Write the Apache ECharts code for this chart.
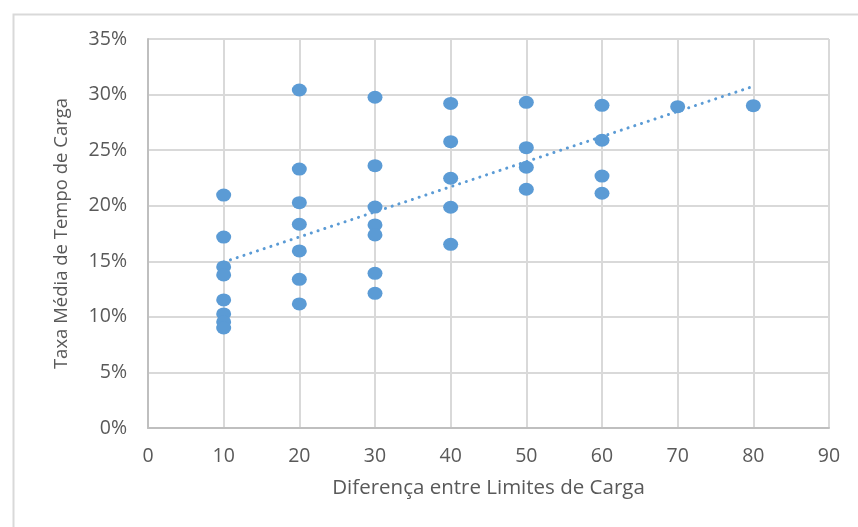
<!DOCTYPE html>
<html>
<head>
<meta charset="utf-8">
<script src="https://cdn.jsdelivr.net/npm/echarts@6/dist/echarts.min.js"></script>
<style>html,body{margin:0;padding:0;background:#fff;}#c{width:858px;height:527px;}</style>
</head>
<body>
<div id="c"></div>
<script>
// Data (x = Diferença entre Limites de Carga, y = Taxa Média %)
const xs10 = [20.96, 17.18, 14.49, 13.77, 11.52, 10.26, 9.54, 9.0];
const xs20 = [30.41, 23.3, 20.27, 18.33, 15.93, 13.38, 11.16];
const xs30 = [29.76, 23.6, 19.88, 18.27, 17.37, 13.92, 12.12];
const xs40 = [29.2, 25.76, 22.47, 19.86, 16.53];
const xs50 = [29.3, 25.22, 23.46, 21.48];
const xs60 = [29.03, 25.89, 22.67, 21.12];
const xs70 = [28.91];
const xs80 = [29.0];
const groupX = [10, 20, 30, 40, 50, 60, 70, 80];
const groupY = [xs10, xs20, xs30, xs40, xs50, xs60, xs70, xs80];
// Trend line endpoints
const trendX = [10, 80];
const trendY = [14.93, 30.74];

const xAxisTitle = 'Diferença entre Limites de Carga';
const yAxisTitle = 'Taxa Média de Tempo de Carga';

const points = [];
groupX.forEach((x, i) => groupY[i].forEach(v => points.push([x, v])));
const trend = trendX.map((x, i) => [x, trendY[i]]);

const font = 'Open Sans';
const txt = '#595959';
const chart = echarts.init(document.getElementById('c'), null, {renderer: 'canvas'});
chart.setOption({
  animation: false,
  backgroundColor: '#fff',
  grid: {left: 148, right: 29, top: 39, bottom: 99, containLabel: false},
  graphic: [{
    type: 'rect', left: 11, top: 12, silent: true,
    shape: {width: 900, height: 600},
    style: {fill: 'none', stroke: '#D9D9D9', lineWidth: 2}
  }],
  xAxis: {
    type: 'value', min: 0, max: 90, interval: 10,
    name: xAxisTitle, nameLocation: 'middle', nameGap: 50,
    nameTextStyle: {color: txt, fontFamily: font, fontSize: 20.5},
    axisLine: {show: true, lineStyle: {color: '#BFBFBF', width: 2}},
    axisTick: {show: false},
    axisLabel: {color: txt, fontFamily: font, fontSize: 19.5, margin: 18},
    splitLine: {show: true, lineStyle: {color: '#D9D9D9', width: 2}}
  },
  yAxis: {
    type: 'value', min: 0, max: 35, interval: 5,
    name: yAxisTitle, nameLocation: 'middle', nameGap: 77, nameRotate: 90,
    nameTextStyle: {color: txt, fontFamily: font, fontSize: 18.5},
    axisLine: {show: true, lineStyle: {color: '#BFBFBF', width: 2}},
    axisTick: {show: false},
    axisLabel: {color: txt, fontFamily: font, fontSize: 19.5, margin: 21, formatter: '{value}%'},
    splitLine: {show: true, lineStyle: {color: '#D9D9D9', width: 2}}
  },
  series: [
    {
      type: 'scatter', data: points, symbol: 'circle', symbolSize: [15, 13],
      itemStyle: {color: '#5B9BD5', opacity: 1}, z: 3
    },
    {
      type: 'line', data: trend, showSymbol: false, symbol: 'none',
      lineStyle: {color: '#5B9BD5', width: 3, type: [0.1, 7], cap: 'round'},
      z: 4
    }
  ]
});
</script>
</body>
</html>
